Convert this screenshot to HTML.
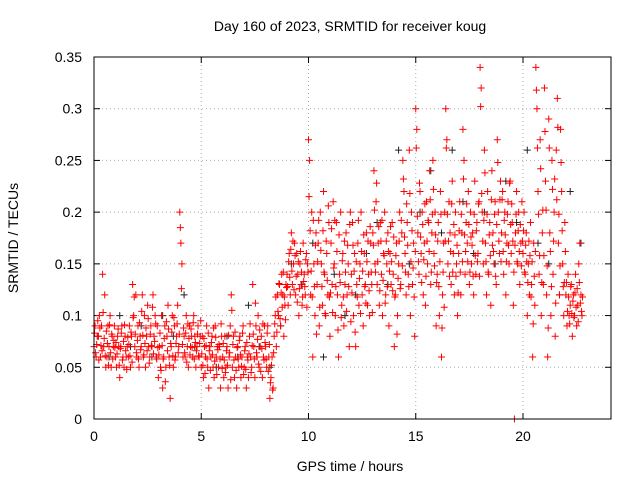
<!DOCTYPE html>
<html><head><meta charset="utf-8"><style>
body{margin:0;background:#fff;}
svg{display:block;font-family:"Liberation Sans",sans-serif;}
</style></head><body>
<svg id="chart" width="640" height="480" viewBox="0 0 640 480">
<text x="350" y="31" font-size="14" text-anchor="middle">Day 160 of 2023, SRMTID for receiver koug</text>
<text x="350" y="471" font-size="14" text-anchor="middle">GPS time / hours</text>
<text transform="translate(18,238) rotate(-90)" font-size="14" text-anchor="middle">SRMTID / TECUs</text>
<g id="grid"></g>
<g id="ticks"></g>
<g id="black"></g>
<g id="red"></g>
<rect x="94" y="57" width="517" height="362" fill="none" stroke="#000" stroke-width="1"/>
</svg>
<script>
const xTicks=[0,5,10,15,20];
const yTicks=[0,0.05,0.1,0.15,0.2,0.25,0.3,0.35];
const yTickLabels=["0","0.05","0.1","0.15","0.2","0.25","0.3","0.35"];
const binHours=0.2;
const redValues=[
0.07,0.09,0.06,0.08, 0.08,0.1,0.06,0.09, 0.14,0.07,0.12,0.05, 0.06,0.09,0.07,0.1, 0.05,0.08,0.07,0.09,
0.06,0.05,0.08,0.07, 0.04,0.07,0.09,0.06, 0.05,0.08,0.06,0.07, 0.06,0.09,0.05,0.08, 0.13,0.1,0.07,0.12,
0.06,0.09,0.05,0.08, 0.07,0.12,0.06,0.1, 0.05,0.08,0.11,0.07, 0.06,0.09,0.07,0.12, 0.08,0.1,0.06,0.09,
0.04,0.07,0.05,0.1, 0.03,0.06,0.09,0.05, 0.08,0.11,0.06,0.02, 0.07,0.1,0.05,0.09, 0.06,0.08,0.11,0.07,
0.2,0.17,0.15,0.06, 0.08,0.06,0.1,0.07, 0.05,0.09,0.07,0.08, 0.06,0.1,0.08,0.05, 0.07,0.09,0.06,0.08,
0.05,0.08,0.04,0.07, 0.06,0.09,0.05,0.03, 0.07,0.06,0.08,0.05, 0.04,0.09,0.06,0.07, 0.05,0.07,0.03,0.08,
0.06,0.04,0.08,0.05, 0.07,0.03,0.06,0.09, 0.12,0.05,0.08,0.04, 0.06,0.03,0.07,0.05, 0.08,0.04,0.06,0.09,
0.05,0.07,0.03,0.06, 0.04,0.08,0.06,0.05, 0.13,0.07,0.04,0.09, 0.06,0.1,0.05,0.07, 0.08,0.04,0.06,0.09,
0.07,0.05,0.09,0.06, 0.02,0.04,0.06,0.03, 0.08,0.1,0.07,0.12, 0.1,0.13,0.09,0.14, 0.12,0.08,0.11,0.13,
0.14,0.11,0.16,0.12, 0.18,0.13,0.15,0.17, 0.12,0.16,0.14,0.1, 0.15,0.13,0.11,0.17, 0.14,0.12,0.16,0.15,
0.27,0.25,0.12,0.2, 0.06,0.15,0.1,0.18, 0.13,0.17,0.09,0.2, 0.15,0.11,0.22,0.14, 0.1,0.16,0.12,0.19,
0.08,0.17,0.13,0.21, 0.15,0.1,0.19,0.12, 0.06,0.14,0.2,0.11, 0.16,0.09,0.13,0.18, 0.12,0.15,0.07,0.2,
0.14,0.19,0.1,0.16, 0.07,0.13,0.17,0.11, 0.15,0.2,0.12,0.09, 0.16,0.13,0.18,0.11, 0.14,0.1,0.17,0.13,
0.18,0.24,0.15,0.21, 0.13,0.17,0.11,0.19, 0.14,0.1,0.16,0.2, 0.12,0.15,0.18,0.09, 0.16,0.13,0.19,0.14,
0.07,0.12,0.17,0.1, 0.15,0.2,0.13,0.18, 0.25,0.22,0.16,0.12, 0.19,0.14,0.26,0.1, 0.2,0.13,0.17,0.08,
0.3,0.28,0.18,0.14, 0.22,0.16,0.2,0.12, 0.17,0.11,0.21,0.15, 0.19,0.24,0.13,0.18, 0.25,0.16,0.2,0.09,
0.14,0.19,0.1,0.22, 0.06,0.12,0.17,0.2, 0.3,0.27,0.15,0.21, 0.18,0.13,0.23,0.16, 0.12,0.2,0.15,0.1,
0.16,0.21,0.12,0.18, 0.28,0.25,0.14,0.19, 0.17,0.22,0.13,0.2, 0.15,0.18,0.12,0.23, 0.14,0.19,0.16,0.21,
0.34,0.32,0.2,0.15, 0.26,0.17,0.12,0.22, 0.14,0.19,0.11,0.24, 0.18,0.15,0.21,0.13, 0.27,0.2,0.16,0.23,
0.18,0.22,0.14,0.2, 0.12,0.17,0.21,0.15, 0.23,0.16,0.19,0.11, 0.0,0.18,0.22,0.15, 0.2,0.13,0.17,0.21,
0.16,0.2,0.14,0.18, 0.1,0.15,0.12,0.19, 0.13,0.06,0.17,0.11, 0.34,0.3,0.22,0.14, 0.27,0.1,0.18,0.13,
0.32,0.23,0.12,0.06, 0.29,0.18,0.1,0.25, 0.14,0.2,0.08,0.26, 0.31,0.17,0.12,0.28, 0.22,0.15,0.1,0.19,
0.12,0.09,0.14,0.1, 0.11,0.13,0.08,0.12, 0.1,0.14,0.09,0.11, 0.15,0.17,0.12,0.1
];
const redValues2=[
0.083,0.064,0.072,0.095, 0.057,0.088,0.071,0.066, 0.103,0.078,0.061,0.085, 0.073,0.052,0.091,0.064, 0.082,0.058,0.076,0.069,
0.074,0.063,0.087,0.052, 0.068,0.083,0.057,0.075, 0.091,0.066,0.048,0.079, 0.072,0.061,0.084,0.055, 0.098,0.118,0.082,0.064,
0.076,0.058,0.093,0.067, 0.104,0.081,0.062,0.073, 0.088,0.066,0.097,0.054, 0.082,0.071,0.108,0.063, 0.075,0.092,0.058,0.069,
0.062,0.083,0.047,0.071, 0.058,0.078,0.036,0.094, 0.066,0.087,0.052,0.073, 0.084,0.061,0.098,0.057, 0.073,0.092,0.064,0.082,
0.185,0.126,0.072,0.088, 0.064,0.083,0.055,0.092, 0.078,0.062,0.087,0.069, 0.093,0.058,0.074,0.066, 0.082,0.061,0.073,0.095,
0.063,0.052,0.078,0.044, 0.071,0.058,0.083,0.066, 0.047,0.074,0.062,0.088, 0.056,0.079,0.043,0.067, 0.072,0.058,0.092,0.049,
0.073,0.057,0.045,0.066, 0.052,0.081,0.064,0.038, 0.105,0.072,0.057,0.084, 0.047,0.069,0.058,0.076, 0.062,0.051,0.083,0.043,
0.066,0.048,0.074,0.057, 0.063,0.092,0.045,0.071, 0.082,0.058,0.112,0.064, 0.077,0.053,0.086,0.046, 0.068,0.092,0.057,0.074,
0.058,0.083,0.046,0.072, 0.035,0.052,0.028,0.064, 0.092,0.118,0.084,0.104, 0.131,0.097,0.122,0.108, 0.142,0.118,0.096,0.127,
0.128,0.152,0.137,0.164, 0.143,0.172,0.125,0.158, 0.138,0.113,0.152,0.126, 0.162,0.142,0.118,0.133, 0.128,0.154,0.108,0.142,
0.215,0.182,0.143,0.118, 0.192,0.128,0.168,0.082, 0.152,0.192,0.108,0.163, 0.128,0.182,0.142,0.102, 0.172,0.134,0.206,0.118,
0.122,0.184,0.103,0.146, 0.192,0.128,0.162,0.086, 0.178,0.132,0.098,0.153, 0.118,0.172,0.142,0.104, 0.168,0.128,0.188,0.094,
0.122,0.168,0.143,0.084, 0.152,0.118,0.192,0.136, 0.102,0.162,0.143,0.178, 0.128,0.112,0.152,0.172, 0.124,0.186,0.142,0.103,
0.168,0.202,0.142,0.228, 0.152,0.186,0.124,0.172, 0.192,0.134,0.158,0.112, 0.172,0.128,0.162,0.143, 0.186,0.152,0.124,0.176,
0.118,0.158,0.082,0.136, 0.172,0.126,0.192,0.148, 0.232,0.176,0.142,0.208, 0.168,0.128,0.218,0.152, 0.182,0.146,0.118,0.162,
0.262,0.196,0.152,0.228, 0.176,0.132,0.188,0.154, 0.208,0.138,0.172,0.192, 0.162,0.212,0.142,0.198, 0.222,0.148,0.178,0.132,
0.172,0.128,0.152,0.198, 0.088,0.142,0.108,0.172, 0.262,0.198,0.172,0.138, 0.162,0.208,0.142,0.188, 0.178,0.138,0.168,0.122,
0.182,0.142,0.198,0.152, 0.232,0.178,0.162,0.208, 0.152,0.188,0.142,0.176, 0.168,0.138,0.198,0.158, 0.182,0.152,0.208,0.138,
0.302,0.218,0.172,0.192, 0.238,0.152,0.198,0.142, 0.178,0.158,0.212,0.168, 0.162,0.198,0.138,0.188, 0.248,0.172,0.212,0.152,
0.212,0.162,0.192,0.178, 0.152,0.198,0.168,0.228, 0.188,0.208,0.172,0.142, 0.168,0.198,0.152,0.182, 0.162,0.188,0.148,0.172,
0.182,0.142,0.168,0.152, 0.132,0.172,0.158,0.118, 0.152,0.092,0.138,0.162, 0.318,0.262,0.198,0.158, 0.242,0.132,0.202,0.158,
0.278,0.202,0.148,0.088, 0.262,0.162,0.128,0.222, 0.172,0.232,0.112,0.212, 0.282,0.198,0.148,0.248, 0.182,0.128,0.132,0.162,
0.132,0.104,0.118,0.092, 0.128,0.102,0.114,0.098, 0.122,0.108,0.126,0.094, 0.132,0.112,0.104,0.118
];
const blackValues=[0.08,0.06,0.1,0.07,0.09,0.06,0.1,0.08,0.12,0.07,0.06,0.05,0.08,0.06,0.11,0.07,0.05,0.09,0.15,0.13,
0.17,0.06,0.14,0.1,0.12,0.16,0.19,0.13,0.26,0.15,0.2,0.24,0.18,0.26,0.21,0.16,0.2,0.15,0.23,0.19,
0.26,0.17,0.15,0.12,0.22,0.17];
const blackStep=0.5;
const NS="http://www.w3.org/2000/svg";
const X0=94,PXH=21.45,Y0=419,PXV=1034.3;
const xs=t=>X0+t*PXH, ys=v=>Y0-v*PXV;
function mk(tag,attrs,parent){const e=document.createElementNS(NS,tag);for(const k in attrs)e.setAttribute(k,attrs[k]);parent.appendChild(e);return e;}
const grid=document.getElementById('grid'),ticks=document.getElementById('ticks');
xTicks.forEach(t=>{
 const x=xs(t);
 if(t>0){const g=mk('line',{x1:x,x2:x,y1:57,y2:419,stroke:'#aaa','stroke-dasharray':'1,3'},grid);
 
 }
 mk('line',{x1:x,x2:x,y1:419,y2:413,stroke:'#000'},ticks);
 mk('line',{x1:x,x2:x,y1:57,y2:63,stroke:'#000'},ticks);
 const l=mk('text',{x:x,y:441,'font-size':14,'text-anchor':'middle'},ticks);l.textContent=t;
 
 
});
yTicks.forEach((v,i)=>{
 const y=ys(v);
 if(i>0&&i<yTicks.length-1){const g=mk('line',{x1:94,x2:611,y1:y,y2:y,stroke:'#aaa','stroke-dasharray':'1,3'},grid);
 
 }
 mk('line',{x1:94,x2:100,y1:y,y2:y,stroke:'#000'},ticks);
 mk('line',{x1:611,x2:605,y1:y,y2:y,stroke:'#000'},ticks);
 const l=mk('text',{x:82,y:y+5,'font-size':14,'text-anchor':'end'},ticks);l.textContent=yTickLabels[i];
 
 
});
function cross(g,t,v,col){
 const x=xs(t),y=ys(v);
 const p=mk('path',{d:`M${x-3.5},${y}h7M${x},${y-3.5}v7`,stroke:col,'stroke-width':1,fill:'none'},g);
 
 
}
const bg=document.getElementById('black');
blackValues.forEach((v,i)=>cross(bg,i*blackStep+0.2,v,'#222'));
const rg=document.getElementById('red');
redValues.forEach((v,i)=>cross(rg,Math.floor(i/4)*binHours+(i%4)*0.05,v,'#f00'));
redValues2.forEach((v,i)=>cross(rg,Math.floor(i/4)*binHours+(i%4)*0.05+0.025,v,'#f00'));
</script>
</body></html>
